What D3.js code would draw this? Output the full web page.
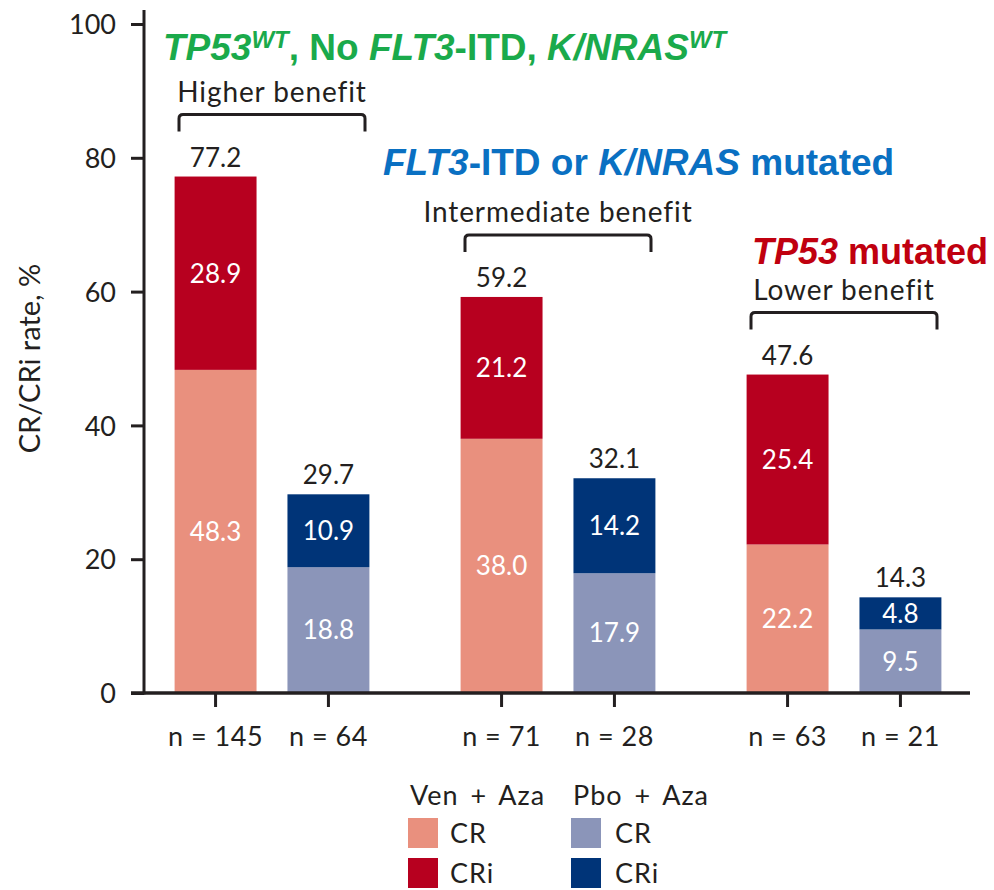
<!DOCTYPE html>
<html>
<head>
<meta charset="utf-8">
<script src="https://cdn.jsdelivr.net/npm/d3@7"></script>
<style>
  body { margin: 0; background: #fff; }
  svg text { font-family: Lato, "Noto Sans", sans-serif; fill: #231f20; }
  .title { font-family: "Liberation Sans", Arial, sans-serif; font-weight: bold; }
</style>
</head>
<body>
<svg id="chart" width="994" height="890"></svg>
<script>
// data
var groups = ["wt", "flt3", "tp53"];
var benefit = ["Higher benefit", "Intermediate benefit", "Lower benefit"];
var arms = ["ven", "pbo"];
var armNames = ["Ven + Aza", "Pbo + Aza"];
var venCR = [48.3, 38.0, 22.2];
var venCRi = [28.9, 21.2, 25.4];
var pboCR = [18.8, 17.9, 9.5];
var pboCRi = [10.9, 14.2, 4.8];
var venN = [145, 71, 63];
var pboN = [64, 28, 21];
var yTicks = [0, 20, 40, 60, 80, 100];

var colors = {
  ven: { cr: "#e9907e", cri: "#b7001f" },
  pbo: { cr: "#8b95b9", cri: "#003478" }
};

var svg = d3.select("#chart");

var y = d3.scaleLinear().domain([0, 100]).range([693, 24]);
var x0 = d3.scaleBand().domain(groups).range([129, 987]);
var x1 = d3.scaleBand().domain(arms).range([0, x0.bandwidth()])
    .paddingInner(0.274).paddingOuter(0.404);

// build rows: one per bar
var rows = [];
groups.forEach(function(g, i) {
  rows.push({ group: g, arm: "ven", cr: venCR[i], cri: venCRi[i], n: venN[i] });
  rows.push({ group: g, arm: "pbo", cr: pboCR[i], cri: pboCRi[i], n: pboN[i] });
});

// y axis
var yAxis = svg.append("g")
    .attr("transform", "translate(144,0)")
    .call(d3.axisLeft(y).tickValues(yTicks).tickSize(13).tickPadding(15));
yAxis.select(".domain").remove();
yAxis.selectAll(".tick line").attr("stroke", "#231f20").attr("stroke-width", 3);
yAxis.selectAll(".tick text").style("font-size", "27px").attr("dy", "0.36em");

svg.append("line")
    .attr("x1", 144).attr("x2", 144)
    .attr("y1", y(100) - 14).attr("y2", y(0) + 1.5)
    .attr("stroke", "#231f20").attr("stroke-width", 3);

svg.append("text")
    .attr("transform", "translate(40," + y(50) + ") rotate(-90)")
    .attr("text-anchor", "middle")
    .style("font-size", "29px")
    .text("CR/CRi rate, %");

// bars
var barG = svg.append("g");
rows.forEach(function(d) {
  var bx = x0(d.group) + x1(d.arm);
  var bw = x1.bandwidth();
  barG.append("rect")
      .attr("x", bx).attr("width", bw)
      .attr("y", y(d.cr)).attr("height", y(0) - y(d.cr))
      .attr("fill", colors[d.arm].cr);
  barG.append("rect")
      .attr("x", bx).attr("width", bw)
      .attr("y", y(d.cr + d.cri)).attr("height", y(d.cr) - y(d.cr + d.cri))
      .attr("fill", colors[d.arm].cri);
  // inner labels
  barG.append("text")
      .attr("x", bx + bw / 2).attr("y", (y(0) + y(d.cr)) / 2)
      .attr("dy", "0.36em").attr("text-anchor", "middle")
      .style("font-size", "26px").style("fill", "#fff")
      .text(d3.format(".1f")(d.cr));
  barG.append("text")
      .attr("x", bx + bw / 2).attr("y", (y(d.cr) + y(d.cr + d.cri)) / 2)
      .attr("dy", "0.36em").attr("text-anchor", "middle")
      .style("font-size", "26px").style("fill", "#fff")
      .text(d3.format(".1f")(d.cri));
  // total above
  barG.append("text")
      .attr("x", bx + bw / 2).attr("y", y(d.cr + d.cri) - 10)
      .attr("text-anchor", "middle")
      .style("font-size", "26px")
      .text(d3.format(".1f")(d.cr + d.cri));
});

// x axis line
svg.append("line")
    .attr("x1", 131).attr("x2", 970)
    .attr("y1", y(0)).attr("y2", y(0))
    .attr("stroke", "#231f20").attr("stroke-width", 3.5);

// per-group bottom axes with n labels
groups.forEach(function(g, i) {
  var ns = { ven: venN[i], pbo: pboN[i] };
  var ax = svg.append("g")
      .attr("transform", "translate(" + x0(g) + "," + y(0) + ")")
      .call(d3.axisBottom(x1).tickSize(14).tickPadding(20)
        .tickFormat(function(a) { return "n = " + ns[a]; }));
  ax.select(".domain").remove();
  ax.selectAll(".tick line").attr("stroke", "#231f20").attr("stroke-width", 3);
  ax.selectAll(".tick text").style("font-size", "27px").style("letter-spacing", "0.5px");
});

// benefit brackets
groups.forEach(function(g, i) {
  var top = Math.max(venCR[i] + venCRi[i], pboCR[i] + pboCRi[i]);
  var cx = x0(g) + x0.bandwidth() / 2;
  var by = y(top) - 62;
  var half = 93;
  svg.append("path")
      .attr("d", "M" + (cx - half) + "," + (by + 17) + "V" + (by + 4) +
        "Q" + (cx - half) + "," + by + " " + (cx - half + 4) + "," + by +
        "H" + (cx + half - 4) +
        "Q" + (cx + half) + "," + by + " " + (cx + half) + "," + (by + 4) +
        "V" + (by + 17))
      .attr("fill", "none").attr("stroke", "#231f20").attr("stroke-width", 3);
  svg.append("text")
      .attr("x", cx).attr("y", by - 13)
      .attr("text-anchor", "middle")
      .style("font-size", "28px").style("letter-spacing", "0.9px")
      .text(benefit[i]);
});

// group titles
var t1 = svg.append("text").attr("class", "title")
    .attr("x", 163).attr("y", 60).style("font-size", "37px").style("fill", "#1aaa4b");
t1.append("tspan").style("font-style", "italic").style("fill", "#1aaa4b").text("TP53");
t1.append("tspan").style("font-style", "italic").style("font-size", "24px").style("fill", "#1aaa4b").attr("dy", -12).text("WT");
t1.append("tspan").style("fill", "#1aaa4b").attr("dy", 12).text(", No ");
t1.append("tspan").style("font-style", "italic").style("fill", "#1aaa4b").text("FLT3");
t1.append("tspan").style("fill", "#1aaa4b").text("-ITD, ");
t1.append("tspan").style("font-style", "italic").style("fill", "#1aaa4b").text("K/NRAS");
t1.append("tspan").style("font-style", "italic").style("font-size", "24px").style("fill", "#1aaa4b").attr("dy", -12).text("WT");

var t2 = svg.append("text").attr("class", "title")
    .attr("x", 383).attr("y", 175).style("font-size", "37px");
t2.append("tspan").style("font-style", "italic").style("fill", "#0a70c2").text("FLT3");
t2.append("tspan").style("fill", "#0a70c2").text("-ITD or ");
t2.append("tspan").style("font-style", "italic").style("fill", "#0a70c2").text("K/NRAS");
t2.append("tspan").style("fill", "#0a70c2").text(" mutated");

var t3 = svg.append("text").attr("class", "title")
    .attr("x", 988).attr("y", 264).attr("text-anchor", "end").style("font-size", "36px");
t3.append("tspan").style("font-style", "italic").style("fill", "#c0000f").text("TP53");
t3.append("tspan").style("fill", "#c0000f").text(" mutated");

// legend
var legend = svg.append("g");
arms.forEach(function(a, i) {
  var lx = 408 + i * 163;
  legend.append("text").attr("x", lx + 2).attr("y", 805)
      .style("font-size", "27px").style("letter-spacing", "1px").style("word-spacing", "4px")
      .text(armNames[i]);
  ["cr", "cri"].forEach(function(k, j) {
    legend.append("rect")
        .attr("x", lx).attr("y", 818 + j * 40)
        .attr("width", 30).attr("height", 30)
        .attr("fill", colors[a][k]);
    legend.append("text")
        .attr("x", lx + 42 + (i ? 2 : 0)).attr("y", 843 + j * 40)
        .style("font-size", "27px").style("letter-spacing", "1px")
        .text(k === "cr" ? "CR" : "CRi");
  });
});
</script>
</body>
</html>
